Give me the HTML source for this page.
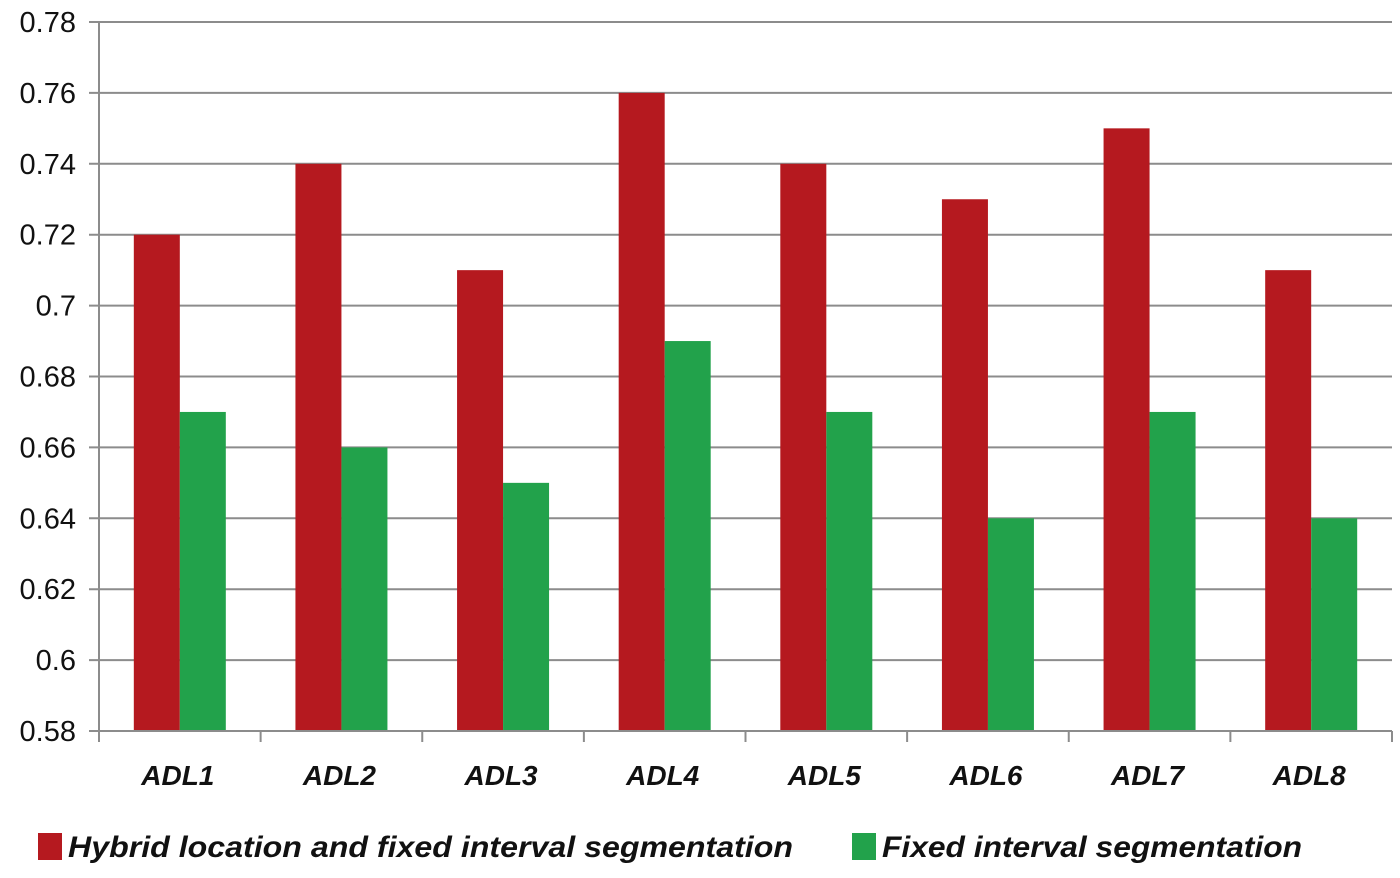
<!DOCTYPE html>
<html><head><meta charset="utf-8"><style>
body{margin:0;background:#fff;width:1400px;height:878px;overflow:hidden}
svg{display:block;font-family:"Liberation Sans",sans-serif}
</style></head><body>
<svg id="chart" width="1400" height="878">
<g id="grid"></g><g id="bars"></g><g id="axes"></g>
<g>
<rect x="38" y="833" width="24" height="27" fill="#b5191f"/>
<text x="68" y="857" font-size="30" font-weight="bold" font-style="italic" fill="#111" textLength="725" lengthAdjust="spacingAndGlyphs">Hybrid location and fixed interval segmentation</text>
<rect x="852" y="833" width="24" height="27" fill="#22a24b"/>
<text x="882" y="857" font-size="30" font-weight="bold" font-style="italic" fill="#111" textLength="420" lengthAdjust="spacingAndGlyphs">Fixed interval segmentation</text>
</g>
</svg>
<script>
const categories=["ADL1","ADL2","ADL3","ADL4","ADL5","ADL6","ADL7","ADL8"];
const hybridValues=[0.72,0.74,0.71,0.76,0.74,0.73,0.75,0.71];
const fixedValues=[0.67,0.66,0.65,0.69,0.67,0.64,0.67,0.64];
const yTicks=[0.58,0.6,0.62,0.64,0.66,0.68,0.7,0.72,0.74,0.76,0.78];
const yTickLabels=["0.58","0.6","0.62","0.64","0.66","0.68","0.7","0.72","0.74","0.76","0.78"];
const NS="http://www.w3.org/2000/svg";
const L=99,R=1392,T=22,B=731,yMin=0.58,yMax=0.78;
const y=v=>B-(v-yMin)/(yMax-yMin)*(B-T);
const cw=(R-L)/categories.length;
const x=i=>L+cw*(i+0.5);
const bw=46;
function mk(tag,attrs,parent){const e=document.createElementNS(NS,tag);for(const k in attrs)e.setAttribute(k,attrs[k]);document.getElementById(parent).appendChild(e);return e;}
yTicks.forEach((t,i)=>{
 const g=mk("line",{x1:89,x2:R,y1:y(t),y2:y(t),stroke:"#8c8c8c","stroke-width":2},"grid");
 
 
 const tx=mk("text",{x:76,y:y(t)+10,"text-anchor":"end","font-size":29,fill:"#111"},"axes");
 tx.textContent=yTickLabels[i];
 
 
});
categories.forEach((c,i)=>{
 const r=mk("rect",{x:x(i)-bw,y:y(hybridValues[i]),width:bw,height:B-y(hybridValues[i]),fill:"#b5191f"},"bars");
 
 
 const g=mk("rect",{x:x(i),y:y(fixedValues[i]),width:bw,height:B-y(fixedValues[i]),fill:"#22a24b"},"bars");
 
 
 const t=mk("text",{x:x(i)-2,y:785,"text-anchor":"middle","font-size":28,"font-weight":"bold","font-style":"italic",fill:"#111"},"axes");
 t.textContent=c;
 
 
});
for(let i=0;i<=categories.length;i++){
 const tk=mk("line",{x1:L+cw*i,x2:L+cw*i,y1:B,y2:742,stroke:"#8c8c8c","stroke-width":2},"axes");
 
 
}
const ya=mk("line",{x1:L,x2:L,y1:T,y2:B,stroke:"#8c8c8c","stroke-width":2},"axes");


const xa=mk("line",{x1:L,x2:R,y1:B,y2:B,stroke:"#8c8c8c","stroke-width":2},"axes");


</script>
</body></html>
